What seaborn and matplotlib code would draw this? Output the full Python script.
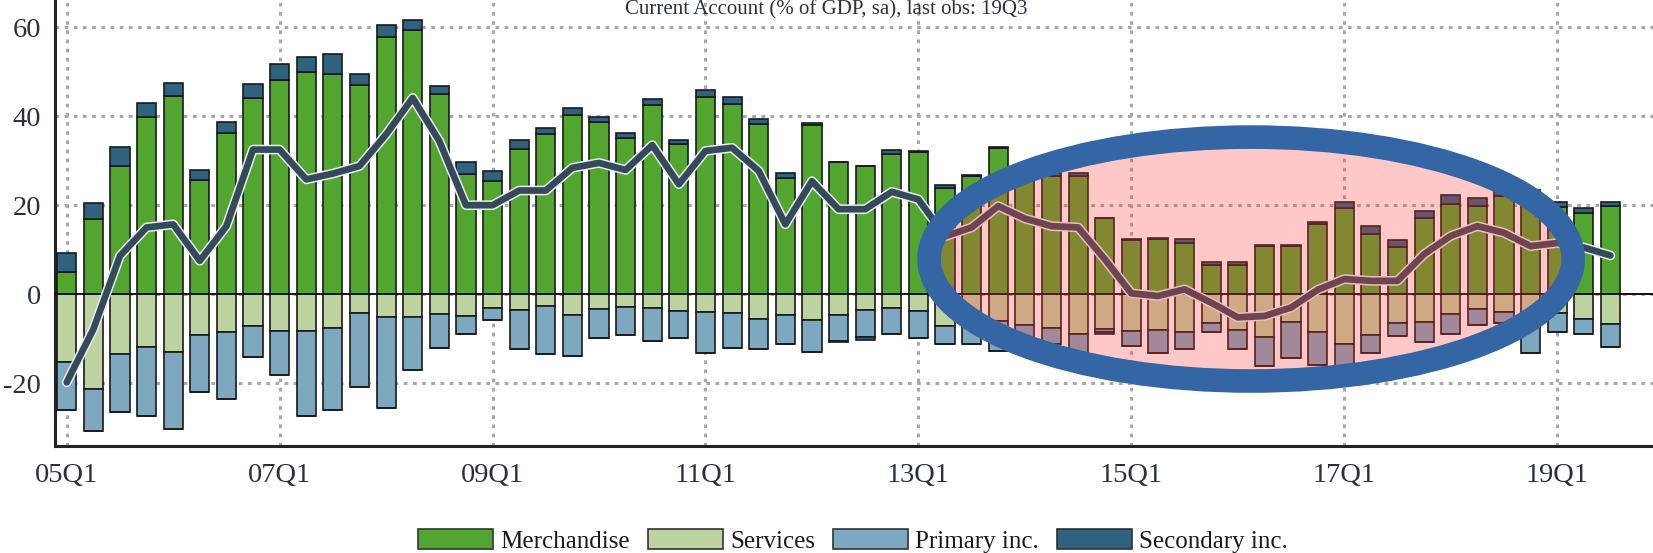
"""Current account decomposition, quarterly, 05Q1-19Q3."""

import matplotlib
matplotlib.use("Agg")
import matplotlib.pyplot as plt
import matplotlib.patheffects as pe
from matplotlib.patches import Ellipse, Patch
import numpy as np
import pandas as pd
import seaborn as sns

# quarters 05Q1 .. 19Q3
quarters = [f"{y:02d}Q{q}" for y in range(5, 20) for q in range(1, 5)][:59]

merchandise = [4.9, 16.8, 28.8, 39.9, 44.5, 25.7, 36.3, 44.1, 48.2, 49.9,
               49.4, 46.9, 57.7, 59.3, 45.0, 27.1, 25.4, 32.7, 36.1, 40.2,
               38.7, 35.0, 42.4, 33.8, 44.3, 42.8, 38.3, 26.2, 38.0, 29.8,
               28.8, 31.4, 31.9, 23.9, 26.6, 32.8, 26.8, 26.6, 26.6, 17.2,
               12.2, 12.5, 11.4, 6.6, 6.6, 10.8, 10.8, 15.7, 19.3, 13.6,
               10.5, 17.1, 20.3, 19.8, 22.1, 21.7, 19.7, 18.3, 19.8]
services = [-15.3, -21.2, -13.5, -11.8, -12.9, -9.2, -8.6, -7.1, -8.2, -8.2,
            -7.7, -4.3, -5.1, -5.1, -4.5, -4.9, -3.2, -3.6, -2.6, -4.7,
            -3.4, -2.8, -3.1, -3.7, -4.0, -4.3, -5.5, -4.7, -5.8, -4.7,
            -3.6, -3.2, -3.7, -7.1, -6.3, -6.0, -7.0, -7.5, -9.0, -7.9,
            -8.2, -8.0, -8.6, -6.5, -8.1, -9.7, -6.2, -8.6, -11.2, -9.2,
            -6.4, -6.2, -4.5, -3.4, -4.1, -5.6, -4.3, -5.6, -6.7]
primary = [-10.7, -9.5, -12.9, -15.5, -17.4, -12.7, -15.0, -7.0, -9.9, -19.1,
           -18.3, -16.6, -20.5, -12.0, -7.5, -4.1, -2.6, -8.6, -10.9, -9.1,
           -6.5, -6.4, -7.4, -6.2, -9.1, -7.7, -6.7, -6.5, -7.1, -5.8,
           -6.1, -5.8, -6.2, -4.1, -4.8, -6.7, -4.3, -3.6, -4.1, -0.6,
           -3.4, -5.2, -3.6, -2.1, -4.1, -6.5, -8.2, -7.3, -5.3, -3.9,
           -3.1, -4.5, -4.5, -3.6, -2.4, -7.5, -4.1, -3.4, -5.1]
secondary = [4.4, 3.6, 4.3, 3.0, 3.0, 2.2, 2.4, 3.2, 3.6, 3.4,
             4.5, 2.5, 2.7, 2.3, 1.7, 2.6, 2.3, 1.9, 1.3, 1.7,
             1.1, 1.3, 1.5, 0.9, 1.5, 1.5, 1.0, 1.0, 0.5, -0.3,
             -0.5, 0.9, 0.3, 0.6, 0.2, 0.3, 0.4, 0.6, 0.6, -0.4,
             0.2, 0.2, 0.9, 0.7, 0.7, 0.2, 0.2, 0.5, 1.4, 1.7,
             1.7, 1.7, 1.9, 1.9, 1.1, 1.7, 1.1, 1.1, 1.0]
current_account = [-19.8, -7.9, 8.6, 15.0, 15.7, 7.5, 15.3, 32.5, 32.5, 25.8,
                   27.1, 28.8, 35.9, 44.1, 34.4, 20.0, 20.0, 23.3, 23.3, 28.4,
                   29.5, 27.9, 33.5, 24.7, 32.2, 32.9, 27.7, 15.7, 25.4, 19.1,
                   19.1, 23.0, 21.3, 13.0, 15.0, 19.8, 17.0, 15.3, 15.0, 7.9,
                   0.2, -0.4, 1.1, -1.9, -5.2, -4.9, -3.0, 1.0, 3.4, 3.0,
                   3.0, 9.0, 13.1, 15.3, 13.8, 10.8, 11.5, 10.5, 8.7]

series_names = ["Merchandise", "Services", "Primary inc.", "Secondary inc."]
series_colors = ["#52a52e", "#bdd4a0", "#7ea8bf", "#2e627f"]
title = "Current Account (% of GDP, sa), last obs: 19Q3"

df = pd.DataFrame({
    "quarter": quarters,
    "merch": merchandise,
    "serv": services,
    "prim": primary,
    "sec": secondary,
    "ca": current_account,
})
df["x"] = np.arange(len(df))

sns.set_style("white")
plt.rcParams["font.family"] = ["Liberation Serif", "DejaVu Serif"]
plt.rcParams["axes.unicode_minus"] = False

fig = plt.figure(figsize=(16.53, 5.53), dpi=100)
ax = fig.add_axes([55 / 1653, 0.1935, 1 - 55 / 1653, 1 - 0.1935])

edge = dict(edgecolor="#1a1a1a", linewidth=1.2, width=0.72, zorder=3)
sec_pos = df["sec"].clip(lower=0)
sec_neg = df["sec"].clip(upper=0)
ax.bar(df["x"], df["merch"], color=series_colors[0], **edge)
ax.bar(df["x"], sec_pos, bottom=df["merch"], color=series_colors[3], **edge)
ax.bar(df["x"], df["serv"], color=series_colors[1], **edge)
ax.bar(df["x"], df["prim"], bottom=df["serv"], color=series_colors[2], **edge)
ax.bar(df["x"], sec_neg, bottom=df["serv"] + df["prim"], color=series_colors[3], **edge)

ax.axhline(0, color="#111111", lw=1.4, zorder=3.5)

sns.lineplot(data=df, x="x", y="ca", ax=ax, color="#34495a", lw=4.8, zorder=5)
ax.lines[-1].set_path_effects([pe.Stroke(linewidth=7.0, foreground="#e8ecef"), pe.Normal()])

# highlight ellipse
ell = Ellipse((44.5, 7.9), width=24.2, height=54.8,
              facecolor=(1.0, 0.23, 0.23, 0.28), edgecolor="#3465a4",
              lw=17, zorder=10)
ax.add_patch(ell)

ax.set_xlim(-0.44, 59.6)
ax.set_ylim(-34.1, 66.1)
xt = list(range(0, 59, 8))
ax.set_xticks(xt)
ax.set_xticklabels([quarters[i] for i in xt])
ax.set_yticks([-20, 0, 20, 40, 60])
ax.set_yticklabels(["-20", "0", "20", "40", "60"])
ax.set_xlabel("")
ax.set_ylabel("")

ax.set_axisbelow(True)
ax.grid(True, axis="both", color="#a8a8a8", linestyle=(0, (1.2, 1.8)), lw=2.2)

for s in ["top", "right"]:
    ax.spines[s].set_visible(False)
for s in ["left", "bottom"]:
    ax.spines[s].set_color("#222222")
    ax.spines[s].set_linewidth(2.2)

ax.tick_params(axis="both", direction="in", length=13, width=2.0, color="#222222",
               labelsize=20.5, labelcolor="#2a3040", pad=12)
ax.tick_params(axis="y", pad=10)

fig.text(0.5, 1.0, title, ha="center", va="top", fontsize=15, color="#2a3040")

handles = [Patch(facecolor=c, edgecolor="#333333", lw=1.2) for c in series_colors]
fig.legend(handles, series_names, loc="center", bbox_to_anchor=(0.516, 0.022), ncol=4,
           frameon=False, fontsize=18, handlelength=3.0, handleheight=0.85,
           handletextpad=0.3, columnspacing=0.7, labelcolor="#1a1a1a")

fig.savefig("out.png", dpi=100)
